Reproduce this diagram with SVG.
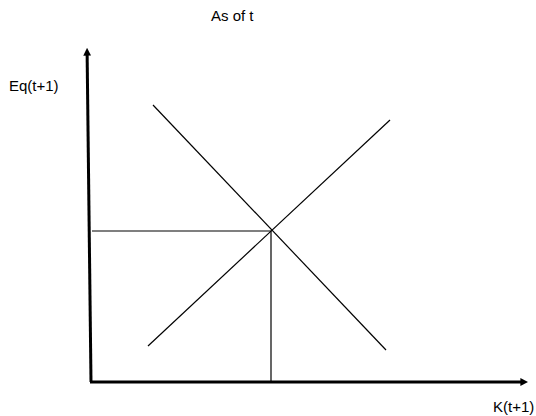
<svg xmlns="http://www.w3.org/2000/svg" width="536" height="416" viewBox="0 0 536 416">
<style>
.t{font-family:"Liberation Sans",Arial,sans-serif;font-size:15px;fill:#000}
.ax{stroke:#000;stroke-width:3;fill:none}
.ln{stroke:#000;stroke-width:1.2;fill:none}
</style>
<defs>
<marker id="ah" markerWidth="2.6" markerHeight="2.6" refX="1.2" refY="1.3" orient="auto" markerUnits="strokeWidth">
<path d="M0,0 L2.6,1.3 L0,2.6 Z" fill="#000"/>
</marker>
</defs>
<rect width="536" height="416" fill="#fff"/>
<g id="connectors">
<line class="ax" x1="91" y1="382" x2="87.1" y2="52" marker-end="url(#ah)"/>
<line class="ax" x1="90" y1="382" x2="524" y2="382" marker-end="url(#ah)"/>
<line class="ln" x1="153" y1="105" x2="386" y2="350"/>
<line class="ln" x1="148" y1="346" x2="390" y2="120"/>
<line class="ln" x1="92" y1="231" x2="271" y2="231"/>
<line class="ln" x1="271" y1="231" x2="271" y2="382"/>
</g>
<g id="title"><text class="t" x="211" y="21">As of t</text></g>
<g id="ylabel"><text class="t" x="9" y="91">Eq(t+1)</text></g>
<g id="xlabel"><text class="t" x="493" y="412">K(t+1)</text></g>
</svg>
